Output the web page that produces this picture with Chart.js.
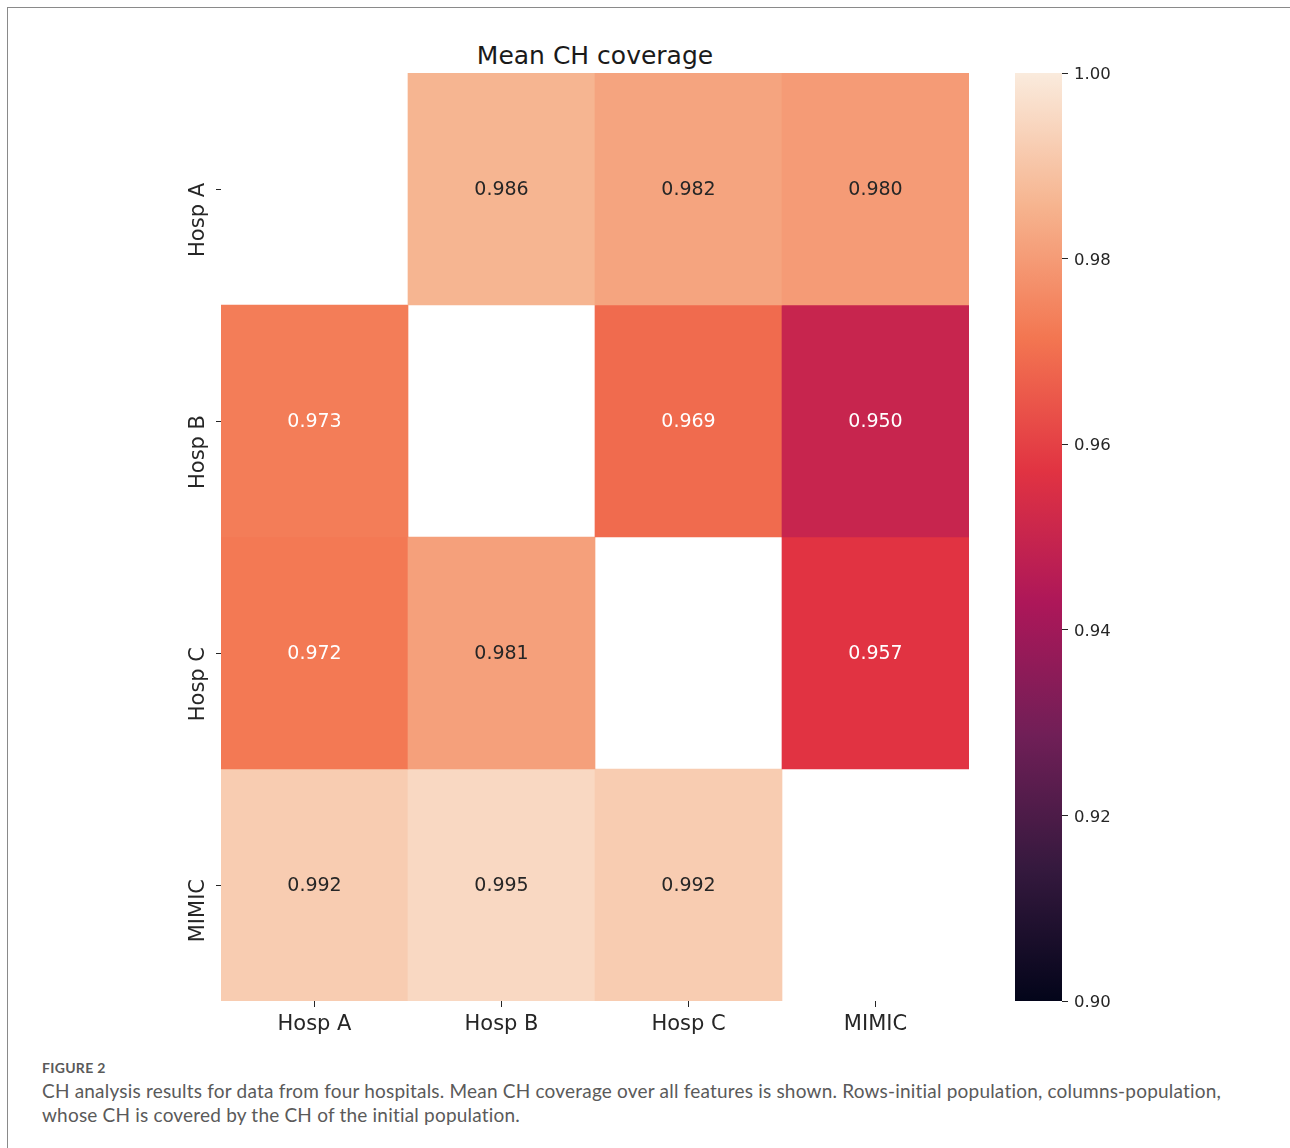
<!DOCTYPE html>
<html>
<head>
<meta charset="utf-8">
<script src="https://cdn.jsdelivr.net/npm/chart.js@4.4.1/dist/chart.umd.min.js"></script>
<style>
  html, body { margin: 0; padding: 0; background: #fff; }
  body { width: 1290px; height: 1148px; position: relative; overflow: hidden; font-family: "DejaVu Sans", sans-serif; }
  .frame { position: absolute; left: 7px; top: 7px; width: 1300px; height: 1160px; border-left: 1px solid #8a8a8a; border-top: 1px solid #8a8a8a; }
  #title { position: absolute; left: 395px; top: 41px; width: 400px; text-align: center; font-size: 25px; line-height: 30px; color: #1a1a1a; }
  #heat-wrap { position: absolute; left: 170px; top: 0; width: 830px; height: 1060px; }
  #bar-wrap { position: absolute; left: 1015px; top: 0; width: 130px; height: 1060px; }
  .fig-label { position: absolute; left: 42px; top: 1060px; font-family: Lato, sans-serif; font-size: 14px; line-height: 16px; letter-spacing: 0.3px; font-weight: bold; color: #5a5a5a; }
  .caption { position: absolute; left: 42px; top: 1079px; font-family: Lato, sans-serif; font-size: 19px; line-height: 24px; letter-spacing: 0.2px; color: #5a5a5a; white-space: nowrap; }
</style>
</head>
<body>
<div class="frame"></div>
<div id="title">Mean CH coverage</div>
<div id="heat-wrap"><canvas id="heatmap" width="830" height="1060"></canvas></div>
<div id="bar-wrap"><canvas id="colorbar" width="130" height="1060"></canvas></div>
<div class="fig-label">FIGURE 2</div>
<div class="caption">CH analysis results for data from four hospitals. Mean CH coverage over all features is shown. Rows-initial population, columns-population,<br>whose CH is covered by the CH of the initial population.</div>

<script>
  // rows = initial population, columns = covered population (diagonal left empty)
  const columnLabels = ["Hosp A", "Hosp B", "Hosp C", "MIMIC"];
  const rowLabels = ["Hosp A", "Hosp B", "Hosp C", "MIMIC"];
  const rowHospA = [null, 0.986, 0.982, 0.980];
  const rowHospB = [0.973, null, 0.969, 0.950];
  const rowHospC = [0.972, 0.981, null, 0.957];
  const rowMimic = [0.992, 0.995, 0.992, null];
  const colorbarTicks = [0.90, 0.92, 0.94, 0.96, 0.98, 1.00];
  const valueMin = 0.90;
  const valueMax = 1.00;

  const rows = [rowHospA, rowHospB, rowHospC, rowMimic];

  // seaborn "rocket" colormap, sampled
  const ROCKET = [
    [0.000, "#03051a"],
    [0.143, "#35193e"],
    [0.286, "#701f57"],
    [0.429, "#ad1759"],
    [0.571, "#e13342"],
    [0.714, "#f37651"],
    [0.857, "#f6b48f"],
    [1.000, "#faebdd"],
  ];

  const FONT = "'DejaVu Sans', sans-serif";
  const INK = "#262626";

  function hexToRgb(hex) {
    const n = parseInt(hex.slice(1), 16);
    return [(n >> 16) & 255, (n >> 8) & 255, n & 255];
  }

  function rocketRgb(t) {
    t = Math.min(1, Math.max(0, t));
    for (let i = 1; i < ROCKET.length; i++) {
      const [t1, c1] = ROCKET[i];
      if (t <= t1) {
        const [t0, c0] = ROCKET[i - 1];
        const f = (t - t0) / (t1 - t0);
        const a = hexToRgb(c0);
        const b = hexToRgb(c1);
        return a.map((v, k) => Math.round(v + f * (b[k] - v)));
      }
    }
    return hexToRgb(ROCKET[ROCKET.length - 1][1]);
  }

  function normalize(v) {
    return (v - valueMin) / (valueMax - valueMin);
  }

  function cellColor(v) {
    const [r, g, b] = rocketRgb(normalize(v));
    return `rgb(${r}, ${g}, ${b})`;
  }

  // same rule as seaborn: dark text on light cells, white on dark
  function textColorFor(v) {
    const lin = rocketRgb(normalize(v)).map((c) => {
      const s = c / 255;
      return s <= 0.03928 ? s / 12.92 : Math.pow((s + 0.055) / 1.055, 2.4);
    });
    const lum = 0.2126 * lin[0] + 0.7152 * lin[1] + 0.0722 * lin[2];
    return lum > 0.408 ? INK : "#ffffff";
  }

  const cellLabels = {
    id: "cellLabels",
    afterDatasetsDraw(chart) {
      const ctx = chart.ctx;
      ctx.save();
      ctx.font = `19px ${FONT}`;
      ctx.textAlign = "center";
      ctx.textBaseline = "middle";
      chart.data.datasets.forEach((ds, di) => {
        const meta = chart.getDatasetMeta(di);
        meta.data.forEach((bar, ci) => {
          const v = ds.values[ci];
          if (v === null) return;
          const { x, y, base } = bar.getProps(["x", "y", "base"], true);
          ctx.fillStyle = textColorFor(v);
          ctx.fillText(v.toFixed(3), x, (y + base) / 2 + 1);
        });
      });
      ctx.restore();
    },
  };

  const nRows = rowLabels.length;

  const datasets = rows.map((values, r) => ({
    label: rowLabels[r],
    values,
    data: values.map((v) => (v === null ? null : [nRows - 1 - r, nRows - r])),
    backgroundColor: values.map((v) => (v === null ? "rgba(0,0,0,0)" : cellColor(v))),
    borderWidth: 0,
    grouped: false,
    barPercentage: 1,
    categoryPercentage: 1,
  }));

  new Chart(document.getElementById("heatmap"), {
    type: "bar",
    data: { labels: columnLabels, datasets },
    options: {
      responsive: false,
      animation: false,
      devicePixelRatio: 1,
      layout: { padding: { top: 73, right: 31, left: 0, bottom: 0 } },
      plugins: {
        legend: { display: false },
        tooltip: { enabled: false },
        title: { display: false },
      },
      scales: {
        x: {
          type: "category",
          offset: true,
          afterFit(scale) {
            scale.height = 59;
          },
          border: { display: false },
          grid: { offset: false, drawOnChartArea: false, tickLength: 6, color: INK, lineWidth: 1 },
          ticks: { padding: 5, maxRotation: 0, color: INK, font: { family: FONT, size: 21 } },
        },
        y: {
          type: "linear",
          min: 0,
          max: nRows,
          afterBuildTicks(scale) {
            scale.ticks = rowLabels.map((_, r) => ({ value: nRows - r - 0.5 }));
          },
          afterFit(scale) {
            scale.width = 51;
          },
          border: { display: false },
          grid: { drawOnChartArea: false, tickLength: 5, color: INK, lineWidth: 1 },
          ticks: {
            minRotation: 90,
            maxRotation: 90,
            padding: 17,
            labelOffset: -6,
            color: INK,
            font: { family: FONT, size: 21 },
            callback(value) {
              return rowLabels[Math.round(nRows - 0.5 - value)];
            },
          },
        },
      },
    },
    plugins: [cellLabels],
  });

  new Chart(document.getElementById("colorbar"), {
    type: "bar",
    data: {
      labels: [""],
      datasets: [
        {
          data: [[valueMin, valueMax]],
          backgroundColor(context) {
            const { chart } = context;
            const area = chart.chartArea;
            if (!area) return "#000";
            const g = chart.ctx.createLinearGradient(0, area.bottom, 0, area.top);
            ROCKET.forEach(([t, c]) => g.addColorStop(t, c));
            return g;
          },
          borderWidth: 0,
          barPercentage: 1,
          categoryPercentage: 1,
        },
      ],
    },
    options: {
      responsive: false,
      animation: false,
      devicePixelRatio: 1,
      layout: { padding: { top: 73, bottom: 59, left: 0, right: 0 } },
      plugins: {
        legend: { display: false },
        tooltip: { enabled: false },
      },
      scales: {
        x: { display: false },
        y: {
          position: "right",
          min: valueMin,
          max: valueMax,
          afterBuildTicks(scale) {
            scale.ticks = colorbarTicks.map((v) => ({ value: v }));
          },
          afterFit(scale) {
            scale.width = 83;
          },
          border: { display: false },
          grid: { drawOnChartArea: false, tickLength: 6, color: INK, lineWidth: 1 },
          ticks: {
            padding: 6,
            labelOffset: 2,
            color: INK,
            font: { family: FONT, size: 16.5 },
            callback(value) {
              return Number(value).toFixed(2);
            },
          },
        },
      },
    },
  });
</script>
</body>
</html>
